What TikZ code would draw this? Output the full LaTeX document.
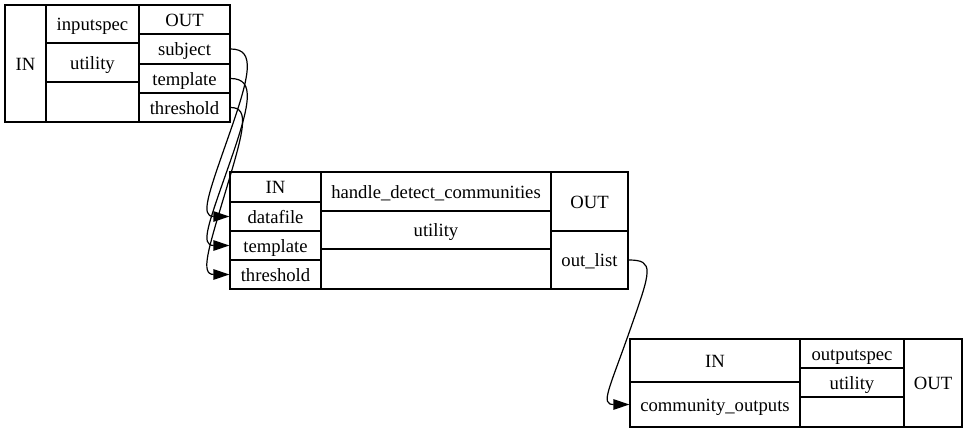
\documentclass[tikz,border=0pt]{standalone}
\usepackage{fontspec}
\setmainfont{Liberation Serif}
\usetikzlibrary{arrows.meta}

\begin{document}
\begin{tikzpicture}[x=1pt, y=-1pt,
    cell/.style={draw, line width=1.2pt, inner sep=0pt, text height=13.2pt, text depth=0pt,
      font=\fontsize{18.67}{22}\selectfont},
    wire/.style={line width=1.2pt, -{Triangle[length=16pt,width=10.5pt]}}]
  \useasboundingbox (0,0) rectangle (968,433);
  % inputspec record
  \node[cell, minimum width=41pt, minimum height=117pt] (iIN) at (25.5,63.5) {IN};
  \node[cell, minimum width=93pt, minimum height=38pt] (iSpec) at (92.5,24) {inputspec};
  \node[cell, minimum width=93pt, minimum height=39pt] (iUtil) at (92.5,62.5) {utility};
  \node[cell, minimum width=93pt, minimum height=40pt] (iBlank) at (92.5,102) {};
  \node[cell, minimum width=91pt, minimum height=29pt] (iOUT) at (184.5,19.5) {OUT};
  \node[cell, minimum width=91pt, minimum height=30pt] (iSubject) at (184.5,49) {subject};
  \node[cell, minimum width=91pt, minimum height=29pt] (iTemplate) at (184.5,78.5) {template};
  \node[cell, minimum width=91pt, minimum height=29pt] (iThreshold) at (184.5,107.5) {threshold};
  % handle_detect_communities record
  \node[cell, minimum width=91pt, minimum height=30pt] (hIN) at (275.5,187) {IN};
  \node[cell, minimum width=91pt, minimum height=29pt] (hDatafile) at (275.5,216.5) {datafile};
  \node[cell, minimum width=91pt, minimum height=29pt] (hTemplate) at (275.5,245.5) {template};
  \node[cell, minimum width=91pt, minimum height=29pt] (hThreshold) at (275.5,274.5) {threshold};
  \node[cell, minimum width=230pt, minimum height=39pt] (hName) at (436,191.5) {handle\_detect\_communities};
  \node[cell, minimum width=230pt, minimum height=38pt] (hUtil) at (436,230) {utility};
  \node[cell, minimum width=230pt, minimum height=40pt] (hBlank) at (436,269) {};
  \node[cell, minimum width=77pt, minimum height=59pt] (hOUT) at (589.5,201.5) {OUT};
  \node[cell, minimum width=77pt, minimum height=58pt] (hOutList) at (589.5,260) {out\_list};
  % outputspec record
  \node[cell, minimum width=170pt, minimum height=43pt] (oIN) at (715,360.5) {IN};
  \node[cell, minimum width=170pt, minimum height=45pt] (oCommunity) at (715,404.5) {community\_outputs};
  \node[cell, minimum width=104pt, minimum height=29pt] (oSpec) at (852,353.5) {outputspec};
  \node[cell, minimum width=104pt, minimum height=29pt] (oUtil) at (852,382.5) {utility};
  \node[cell, minimum width=104pt, minimum height=30pt] (oBlank) at (852,412) {};
  \node[cell, minimum width=58pt, minimum height=88pt] (oOUT) at (933,383) {OUT};
  % edges
  \draw[wire] (iSubject.east) .. controls (256,49) and (250,75) .. (229,135)
    .. controls (208,195) and (200,216.5) .. (hDatafile.west);
  \draw[wire] (iTemplate.east) .. controls (256,78.5) and (250,105) .. (229,165)
    .. controls (208,225) and (200,245.5) .. (hTemplate.west);
  \draw[wire] (iThreshold.east) .. controls (250,107.5) and (244,130) .. (226,190)
    .. controls (208,250) and (200,274.5) .. (hThreshold.west);
  \draw[wire] (hOutList.east) .. controls (655,260) and (651,270) .. (630,330)
    .. controls (609,390) and (600,404.5) .. (oCommunity.west);
\end{tikzpicture}
\end{document}
